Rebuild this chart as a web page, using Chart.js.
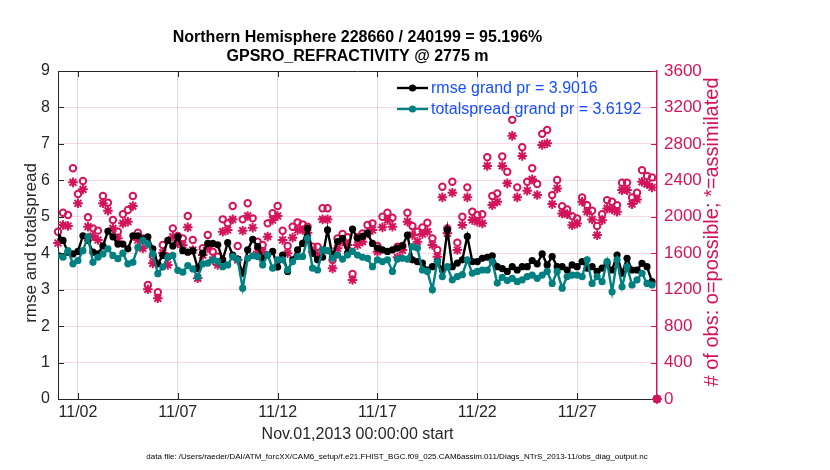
<!DOCTYPE html>
<html lang="en">
<head>
    <meta charset="UTF-8">
    <title>GPSRO_REFRACTIVITY @ 2775 m</title>
    <script src="https://cdn.jsdelivr.net/npm/chart.js"></script>
    <style>
        body {
            margin: 0;
            background: #ffffff;
        }
        #wrap {
            width: 830px;
            height: 470px;
        }
    </style>
</head>
<body>
    <div id="wrap">
        <canvas id="obsChart" width="830" height="470"></canvas>
    </div>
    <script>
        // 6-hourly bins, days since Nov.01,2013 00:00:00
        const binStartDay = 0;
        const binStepDays = 0.25;

        const titleLines = ['Northern Hemisphere 228660 / 240199 = 95.196%', 'GPSRO_REFRACTIVITY @ 2775 m'];
        const legendLabels = ['rmse grand pr = 3.9016', 'totalspread grand pr = 3.6192'];
        const xTitle = 'Nov.01,2013 00:00:00 start';
        const yTitle = 'rmse and totalspread';
        const y2Title = '# of obs: o=possible; *=assimilated';
        const dataFile = 'data file: /Users/raeder/DAI/ATM_forcXX/CAM6_setup/f.e21.FHIST_BGC.f09_025.CAM6assim.011/Diags_NTrS_2013-11/obs_diag_output.nc';

        const xTickDays = [1, 6, 11, 16, 21, 26];
        const xTickLabels = ['11/02', '11/07', '11/12', '11/17', '11/22', '11/27'];

        const rmse = [
            4.44, 4.35, 4.03, 3.98, 4.05, 4.48, 4.35, 4.03, 3.98, 4.20,
            4.60, 4.45, 4.25, 4.25, 4.12, 4.48, 4.48, 4.39, 4.45, 4.12,
            3.71, 3.94, 4.35, 4.20, 4.45, 4.07, 4.03, 4.07, 3.59, 4.00,
            4.27, 4.27, 4.23, 3.82, 4.29, 3.95, 3.84, 3.45, 4.09, 4.38,
            4.18, 3.86, 3.95, 4.05, 3.62, 3.95, 3.50, 3.82, 4.09, 4.27,
            4.68, 4.00, 3.82, 3.89, 4.64, 3.91, 4.32, 4.41, 4.00, 4.66,
            4.41, 4.46, 4.55, 4.27, 4.14, 4.09, 4.05, 4.09, 4.14, 4.20,
            4.50, 3.82, 3.77, 3.73, 3.54, 3.63, 3.77, 3.54, 4.64, 3.63,
            3.73, 3.82, 4.46, 3.77, 3.77, 3.86, 3.89, 3.93, 3.63, 3.58,
            3.50, 3.63, 3.54, 3.63, 3.63, 3.80, 3.71, 3.98, 3.68, 3.91,
            3.63, 3.63, 3.54, 3.68, 3.63, 3.77, 3.59, 3.63, 3.50, 3.59,
            3.72, 3.54, 3.95, 3.45, 3.86, 3.54, 3.54, 3.72, 3.63, 3.22, null
        ];

        const totalspread = [
            3.95, 3.89, 4.07, 3.71, 3.80, 4.07, 4.45, 3.75, 3.89, 3.98,
            4.12, 3.94, 3.85, 4.00, 3.71, 3.75, 4.16, 4.35, 4.25, 3.98,
            3.44, 3.62, 3.89, 3.94, 3.53, 3.48, 3.66, 3.57, 3.35, 3.71,
            3.73, 3.82, 3.77, 3.63, 3.68, 3.91, 3.82, 3.04, 3.86, 3.93,
            3.91, 3.68, 3.95, 3.59, 3.82, 3.82, 3.54, 3.77, 3.91, 3.91,
            4.41, 3.59, 3.54, 4.09, 4.07, 3.86, 3.95, 3.84, 3.95, 4.05,
            3.95, 3.89, 3.86, 3.63, 3.82, 3.77, 3.82, 3.50, 3.84, 3.86,
            3.84, 4.18, 4.14, 3.54, 3.50, 3.00, 3.77, 3.36, 3.63, 3.27,
            3.36, 3.41, 3.82, 3.45, 3.50, 3.54, 3.54, 3.77, 3.18, 3.34,
            3.25, 3.31, 3.22, 3.27, 3.36, 3.40, 3.31, 3.40, 3.50, 3.17,
            3.50, 3.04, 3.36, 3.40, 3.40, 3.36, 3.82, 3.17, 3.36, 3.22,
            3.77, 2.94, 3.82, 3.08, 3.63, 3.13, 3.27, 3.45, 3.17, 3.13, null
        ];

        const obsPossible = [
            1836, 2045, 2020, 2532, 2250, 2393, 1994, 1873, 1848, 2228,
            2155, 1965, 1836, 2027, 2074, 2228, 1825, 1763, 1251, 1569,
            1171, 1690, 1562, 1873, 1789, 1763, 2009, 1745, 1434, 1654,
            1800, 1617, 1562, 1972, 1928, 2118, 1679, 1972, 2148, 1983,
            1727, 1690, 1928, 2038, 2118, 1847, 1679, 1891, 1939, 1917,
            1891, 1672, 1672, 2093, 2093, 1526, 1763, 1811, 1775, 1372,
            1775, 1818, 1910, 1928, 1679, 2001, 2045, 1990, 1672, 1679,
            2045, 1899, 1836, 1884, 1935, 1763, 1635, 2330, 1873, 2385,
            1716, 2001, 2323, 2056, 2020, 2027, 2653, 2228, 2257, 2661,
            2495, 3064, 2323, 2763, 2385, 2532, 2360, 2910, 2954, 2238,
            2403, 2117, 2081, 2007, 1982, 2212, 2128, 2066, 1898, 2029,
            2183, 2165, 2128, 2373, 2373, 2212, 2264, 2512, 2447, 2432, 0
        ];

        const obsAssimilated = [
            1712, 1910, 1899, 2378, 2148, 2301, 1891, 1789, 1745, 2148,
            2067, 1873, 1763, 1928, 1946, 2118, 1745, 1654, 1204, 1489,
            1105, 1606, 1471, 1781, 1709, 1690, 1884, 1635, 1325, 1580,
            1657, 1525, 1471, 1836, 1855, 1972, 1526, 1847, 2009, 1880,
            1617, 1617, 1782, 1965, 2009, 1745, 1599, 1771, 1855, 1855,
            1826, 1617, 1581, 1972, 1972, 1434, 1654, 1727, 1690, 1306,
            1690, 1727, 1818, 1855, 1617, 1884, 1965, 1891, 1555, 1635,
            1946, 1800, 1727, 1811, 1836, 1690, 1562, 2213, 1818, 2264,
            1635, 1910, 2213, 1965, 1946, 1928, 2558, 2128, 2165, 2558,
            2367, 2888, 2213, 2668, 2286, 2411, 2239, 2789, 2807, 2139,
            2311, 2037, 2029, 1908, 1927, 2165, 2055, 1971, 1799, 1963,
            2092, 2081, 2055, 2293, 2293, 2139, 2190, 2384, 2359, 2322, 0
        ];

        const inkColor = '#262626';
        const obsColor = '#d4145a';
        const spreadColor = '#008080';
        const legendTextColor = '#1450ff';
        const fontFamily = '"Liberation Sans", Arial, Helvetica, sans-serif';

        Chart.defaults.font.family = fontFamily;
        Chart.defaults.color = inkColor;

        const binDays = obsPossible.map((_, i) => binStartDay + i * binStepDays);
        const toPoints = values => values.map((v, i) => ({ x: binDays[i], y: v }));

        // titles, axis labels, inward ticks, box and legend drawn after the chart
        const decorPlugin = {
            id: 'decor',
            afterDraw(chart) {
                const ctx = chart.ctx;
                const area = chart.chartArea;
                const xs = chart.scales.x;
                const ys = chart.scales.y;
                const y2s = chart.scales.y2;
                const midX = (area.left + area.right) / 2;
                const midY = (area.top + area.bottom) / 2;
                ctx.save();

                // box top line and inward tick marks
                ctx.lineWidth = 1;
                ctx.strokeStyle = inkColor;
                ctx.beginPath();
                ctx.moveTo(area.left, area.top + 0.5);
                ctx.lineTo(area.right, area.top + 0.5);
                xTickDays.forEach(d => {
                    const px = Math.round(xs.getPixelForValue(d)) + 0.5;
                    ctx.moveTo(px, area.bottom);
                    ctx.lineTo(px, area.bottom - 6);
                    ctx.moveTo(px, area.top);
                    ctx.lineTo(px, area.top + 6);
                });
                ys.ticks.forEach(t => {
                    const py = Math.round(ys.getPixelForValue(t.value)) + 0.5;
                    ctx.moveTo(area.left, py);
                    ctx.lineTo(area.left + 6, py);
                });
                ctx.stroke();
                ctx.strokeStyle = obsColor;
                ctx.beginPath();
                y2s.ticks.forEach(t => {
                    const py = Math.round(y2s.getPixelForValue(t.value)) + 0.5;
                    ctx.moveTo(area.right, py);
                    ctx.lineTo(area.right - 6, py);
                });
                ctx.stroke();

                // titles
                ctx.fillStyle = '#000000';
                ctx.textAlign = 'center';
                ctx.textBaseline = 'middle';
                ctx.font = 'bold 16px ' + fontFamily;
                ctx.fillText(titleLines[0], midX, 38);
                ctx.fillText(titleLines[1], midX, 57);

                ctx.fillStyle = inkColor;
                ctx.font = '16px ' + fontFamily;
                ctx.fillText(xTitle, midX, 435);
                ctx.font = '8px ' + fontFamily;
                ctx.fillStyle = '#000000';
                ctx.fillText(dataFile, 397, 457);

                ctx.font = '17px ' + fontFamily;
                ctx.fillStyle = inkColor;
                ctx.save();
                ctx.translate(31, midY + 8);
                ctx.rotate(-Math.PI / 2);
                ctx.fillText(yTitle, 0, 0);
                ctx.restore();
                ctx.font = '20px ' + fontFamily;
                ctx.fillStyle = obsColor;
                ctx.save();
                ctx.translate(712, midY - 3);
                ctx.rotate(-Math.PI / 2);
                ctx.fillText(y2Title, 0, 0);
                ctx.restore();

                // legend inside the axes
                const rows = [88, 109];
                [0, 1].forEach(k => {
                    const ds = chart.data.datasets[k];
                    const ry = rows[k];
                    ctx.strokeStyle = ds.borderColor;
                    ctx.lineWidth = 2.4;
                    ctx.beginPath();
                    ctx.moveTo(397, ry);
                    ctx.lineTo(428, ry);
                    ctx.stroke();
                    ctx.fillStyle = ds.pointBackgroundColor;
                    ctx.beginPath();
                    ctx.arc(412.5, ry, 3.6, 0, Math.PI * 2);
                    ctx.fill();
                    ctx.fillStyle = legendTextColor;
                    ctx.textAlign = 'left';
                    ctx.font = '16px ' + fontFamily;
                    ctx.fillText(ds.label, 431, ry + 1);
                });
                ctx.restore();
            }
        };

        new Chart(document.getElementById('obsChart').getContext('2d'), {
            type: 'line',
            data: {
                datasets: [{
                    label: legendLabels[0],
                    data: toPoints(rmse),
                    yAxisID: 'y',
                    borderColor: '#000000',
                    backgroundColor: '#000000',
                    pointBackgroundColor: '#000000',
                    pointBorderColor: '#000000',
                    borderWidth: 2.4,
                    pointRadius: 3.6,
                    pointBorderWidth: 0,
                    order: 2
                }, {
                    label: legendLabels[1],
                    data: toPoints(totalspread),
                    yAxisID: 'y',
                    borderColor: spreadColor,
                    backgroundColor: spreadColor,
                    pointBackgroundColor: spreadColor,
                    pointBorderColor: spreadColor,
                    borderWidth: 2.4,
                    pointRadius: 3.6,
                    pointBorderWidth: 0,
                    order: 1
                }, {
                    label: 'possible',
                    data: toPoints(obsPossible),
                    yAxisID: 'y2',
                    showLine: false,
                    pointStyle: 'circle',
                    pointRadius: 3.2,
                    pointBorderWidth: 2,
                    pointBorderColor: obsColor,
                    pointBackgroundColor: 'rgba(255,255,255,0)',
                    borderColor: obsColor,
                    clip: false,
                    order: 4
                }, {
                    label: 'assimilated',
                    data: toPoints(obsAssimilated),
                    yAxisID: 'y2',
                    showLine: false,
                    pointStyle: 'star',
                    pointRadius: 4.8,
                    pointBorderWidth: 2,
                    pointBorderColor: obsColor,
                    pointBackgroundColor: obsColor,
                    borderColor: obsColor,
                    clip: false,
                    order: 3
                }]
            },
            options: {
                responsive: false,
                animation: false,
                events: [],
                layout: { padding: { top: 71, left: 0, right: 0, bottom: 0 } },
                plugins: {
                    legend: { display: false },
                    tooltip: { enabled: false }
                },
                scales: {
                    x: {
                        type: 'linear',
                        min: 0,
                        max: 30,
                        afterBuildTicks: s => { s.ticks = xTickDays.map(v => ({ value: v })); },
                        afterFit: s => { s.height = 71; },
                        ticks: {
                            autoSkip: false,
                            maxRotation: 0,
                            padding: 4,
                            color: inkColor,
                            font: { size: 16 },
                            callback: v => xTickLabels[xTickDays.indexOf(v)]
                        },
                        grid: { color: '#dddddd', drawTicks: false },
                        border: { color: inkColor, width: 1 }
                    },
                    y: {
                        position: 'left',
                        min: 0,
                        max: 9,
                        afterFit: s => { s.width = 58; },
                        ticks: { stepSize: 1, padding: 8, color: inkColor, font: { size: 16 } },
                        grid: { display: false, drawTicks: false },
                        border: { color: inkColor, width: 1 }
                    },
                    y2: {
                        position: 'right',
                        min: 0,
                        max: 3600,
                        afterFit: s => { s.width = 173; },
                        ticks: {
                            stepSize: 400,
                            padding: 7,
                            color: obsColor,
                            font: { size: 17 },
                            callback: v => String(v)
                        },
                        grid: { color: 'rgba(212,20,90,0.16)', drawTicks: false },
                        border: { color: obsColor, width: 1.5 }
                    }
                }
            },
            plugins: [decorPlugin]
        });
    </script>
</body>
</html>
